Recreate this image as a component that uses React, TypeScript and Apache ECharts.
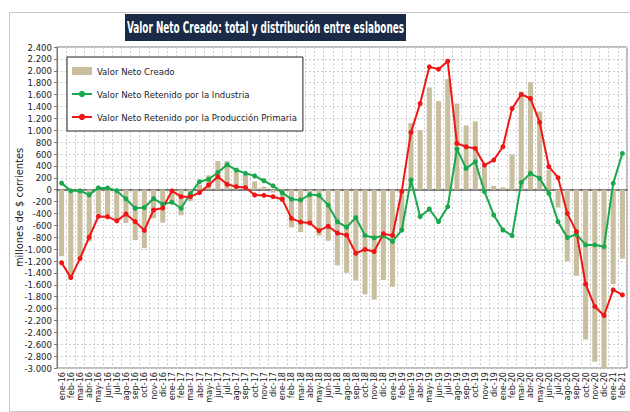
import React, { useEffect, useRef } from "react";
import * as echarts from "echarts";

const categories = [
  "ene-16", "feb-16", "mar-16", "abr-16", "may-16", "jun-16", "jul-16", "ago-16", "sep-16", "oct-16", "nov-16", "dic-16",
  "ene-17", "feb-17", "mar-17", "abr-17", "may-17", "jun-17", "jul-17", "ago-17", "sep-17", "oct-17", "nov-17", "dic-17",
  "ene-18", "feb-18", "mar-18", "abr-18", "may-18", "jun-18", "jul-18", "ago-18", "sep-18", "oct-18", "nov-18", "dic-18",
  "ene-19", "feb-19", "mar-19", "abr-19", "may-19", "jun-19", "jul-19", "ago-19", "sep-19", "oct-19", "nov-19", "dic-19",
  "ene-20", "feb-20", "mar-20", "abr-20", "may-20", "jun-20", "jul-20", "ago-20", "sep-20", "oct-20", "nov-20", "dic-20",
  "ene-21", "feb-21",
];

const valorNetoCreado = [
  -1120, -1470, -1170, -870, -420, -430, -500, -560, -850, -985, -480, -555,
  -210, -430, -190, 85, 240, 480, 480, 360, 270, 140, 50, -50,
  -205, -635, -715, -600, -775, -860, -1275, -1400, -1530, -1760, -1850, -1520,
  -1635, -705, 1120, 1000, 1720, 1490, 1860, 1450, 1080, 1150, 385, 65,
  40, 590, 1650, 1805, 1315, 330, -300, -1205, -1450, -2520, -2895, -3000,
  -1590, -1160,
];

const retenidoIndustria = [
  110, -20, -20, -85, 30, 28, -17, -155, -313, -300, -150, -243,
  -212, -313, -70, 134, 175, 290, 420, 330, 275, 232, 150, 65,
  -50, -160, -174, -82, -95, -260, -540, -630, -470, -770, -810, -775,
  -870, -680, 162, -454, -325, -538, -286, 683, 358, 470, -34, -426,
  -678, -773, 123, 274, 190, -62, -538, -806, -750, -930, -930, -958,
  106, 610,
];

const retenidoPrimaria = [
  -1230, -1480, -1160, -800, -450, -455, -525, -410, -538, -685, -342, -310,
  -20, -118, -118, -50, 80, 218, 90, 50, 35, -90, -95, -118,
  -160, -482, -545, -560, -690, -615, -730, -765, -1070, -1005, -1040, -740,
  -770, -30, 963, 1450, 2066, 2027, 2160, 778, 722, 694, 414, 498,
  722, 1366, 1602, 1534, 1131, 386, 202, -398, -706, -1590, -1966, -2117,
  -1686, -1770,
];

const NARROW = "'Liberation Sans Narrow', 'DejaVu Sans Condensed', 'Arial Narrow', sans-serif";

function fmt(v: number): string {
  const s = Math.abs(v).toString().replace(/\B(?=(\d{3})+(?!\d))/g, ".");
  return (v < 0 ? "-" : "") + s;
}

export default function App() {
  const ref = useRef<HTMLDivElement>(null);
  useEffect(() => {
    const chart = echarts.init(ref.current!, null, { renderer: "svg" });
    chart.setOption({
      animation: false,
      backgroundColor: "#ffffff",
      graphic: [
        {
          type: "rect",
          left: 7,
          top: 10,
          shape: { width: 621, height: 399 },
          style: { fill: "none", stroke: "#c8c8c8", lineWidth: 1 },
          z: -10,
        },
        {
          type: "rect",
          left: 125,
          top: 14,
          shape: { width: 281, height: 27 },
          style: { fill: "#1b2a47" },
        },
        {
          type: "text",
          x: 265.5,
          y: 28,
          scaleX: 0.66,
          style: {
            text: "Valor Neto Creado: total y distribución entre eslabones",
            fill: "#ffffff",
            font: "bold 15px " + NARROW,
            textAlign: "center",
            textVerticalAlign: "middle",
          },
        },
      ],
      legend: {
        orient: "vertical",
        left: 67,
        top: 57,
        backgroundColor: "#ffffff",
        borderColor: "#222222",
        borderWidth: 1,
        padding: [9, 6, 9, 4],
        itemGap: 13,
        itemWidth: 20,
        itemHeight: 8,
        textStyle: { fontSize: 9.5, fontFamily: NARROW, color: "#222" },
        data: [
          { name: "Valor Neto Creado", icon: "rect" },
          { name: "Valor Neto Retenido por la Industria" },
          { name: "Valor Neto Retenido por la Producción Primaria" },
        ],
      },
      grid: {
        left: 57,
        right: 3,
        top: 47,
        bottom: 44,
        show: true,
        borderColor: "#777777",
        borderWidth: 1,
      },
      xAxis: {
        type: "category",
        data: categories,
        axisLine: { lineStyle: { color: "#555", width: 1.5 } },
        axisTick: { show: false },
        axisLabel: {
          interval: 0,
          rotate: 90,
          fontSize: 9,
          fontFamily: NARROW,
          color: "#222",
          margin: 4,
        },
        splitLine: {
          show: true,
          interval: 0,
          lineStyle: { color: "#cfcfcf", type: [2, 2], width: 1 },
        },
      },
      yAxis: {
        type: "value",
        min: -3000,
        max: 2400,
        interval: 200,
        name: "millones de $ corrientes",
        nameLocation: "middle",
        nameGap: 32,
        nameMoveOverlap: false,
        nameRotate: 90,
        nameTextStyle: { fontSize: 11, fontFamily: NARROW, color: "#222" },
        axisLine: { show: true, lineStyle: { color: "#777" } },
        axisTick: { show: true, length: 3, lineStyle: { color: "#777" } },
        axisLabel: {
          fontSize: 9.5,
          fontFamily: NARROW,
          color: "#222",
          margin: 5,
          formatter: fmt,
        },
        splitLine: {
          show: true,
          lineStyle: { color: "#cfcfcf", type: [2, 2], width: 1 },
        },
      },
      series: [
        {
          name: "Valor Neto Creado",
          type: "bar",
          data: valorNetoCreado,
          barWidth: "55%",
          itemStyle: { color: "#c9bf9f" },
        },
        {
          name: "Valor Neto Retenido por la Industria",
          type: "line",
          data: retenidoIndustria,
          symbol: "circle",
          symbolSize: 5,
          lineStyle: { color: "#1aa84c", width: 2 },
          itemStyle: { color: "#1aa84c" },
        },
        {
          name: "Valor Neto Retenido por la Producción Primaria",
          type: "line",
          data: retenidoPrimaria,
          symbol: "circle",
          symbolSize: 5,
          lineStyle: { color: "#f01616", width: 2 },
          itemStyle: { color: "#f01616" },
        },
      ],
    });
    return () => chart.dispose();
  }, []);
  return (
    <div
      ref={ref}
      style={{ position: "fixed", left: 0, top: 0, width: 630, height: 412 }}
    />
  );
}
